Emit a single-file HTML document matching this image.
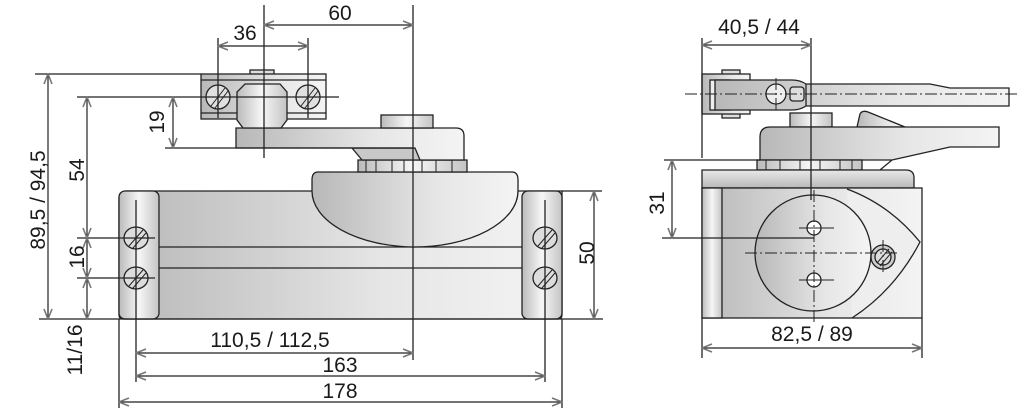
<!DOCTYPE html>
<html><head><meta charset="utf-8"><style>
html,body{margin:0;padding:0;background:#fff;}
svg{display:block;}
text{font-family:"Liberation Sans",Arial,sans-serif;font-size:21px;fill:#1a1a1a;}
</style></head><body>
<svg width="1024" height="412" viewBox="0 0 1024 412" xmlns="http://www.w3.org/2000/svg">
<defs>
<linearGradient id="g" x1="0" x2="1" y1="0" y2="0">
<stop offset="0" stop-color="#b8b8b8"/><stop offset="0.6" stop-color="#e6e6e6"/><stop offset="1" stop-color="#f4f4f4"/></linearGradient>
<linearGradient id="gv" x1="0" x2="0" y1="0" y2="1">
<stop offset="0" stop-color="#e8e8e8"/><stop offset="1" stop-color="#b8b8b8"/></linearGradient>
<linearGradient id="gc" x1="0" x2="1">
<stop offset="0" stop-color="#bbb"/><stop offset="0.5" stop-color="#f6f6f6"/><stop offset="1" stop-color="#c4c4c4"/></linearGradient>
<marker id="a" viewBox="0 0 12 10" refX="11" refY="5" markerWidth="12" markerHeight="10" markerUnits="userSpaceOnUse" orient="auto-start-reverse">
<path d="M1,1 L11,5 L1,9" fill="none" stroke="#777" stroke-width="1.6"/></marker>
</defs>
<g stroke="#222" stroke-width="1.3">
<!-- LEFT VIEW -->
<path d="M127,191 H562 V315 Q562,319 558,319 H123 Q119,319 119,315 V199 Q119,191 127,191Z" fill="url(#g)"/>
<rect x="119" y="191" width="40" height="128" fill="url(#gc)" rx="6"/>
<rect x="522" y="191" width="40" height="128" fill="url(#gc)" rx="6"/>
<line x1="159" y1="247" x2="522" y2="247"/><line x1="159" y1="268" x2="522" y2="268"/>
<path d="M318,172 H512 Q518,172 518,180 V191 A104,56 0 0 1 413,247 A104,56 0 0 1 312,191 V180 Q312,172 318,172Z" fill="url(#g)"/>
<rect x="358" y="160" width="109" height="12" fill="url(#gc)"/>
<g stroke-width="1"><line x1="366" y1="160" x2="366" y2="172"/><line x1="376" y1="160" x2="376" y2="172"/><line x1="392" y1="160" x2="392" y2="172"/><line x1="404" y1="160" x2="404" y2="172"/><line x1="422" y1="160" x2="422" y2="172"/><line x1="436" y1="160" x2="436" y2="172"/><line x1="452" y1="160" x2="452" y2="172"/></g>
<path d="M352,148 L362,160 H452 L420,148Z" fill="#c8c8c8"/>
<path d="M236,128 H456 Q464,128 464,136 V160 H420 L415,148 H236Z" fill="url(#g)"/>
<rect x="381" y="115" width="52" height="13" fill="url(#gc)"/>
<rect x="250" y="70" width="24" height="5" fill="#ddd"/>
<rect x="201" y="74" width="125" height="45" fill="url(#g)"/>
<line x1="201" y1="80" x2="326" y2="80"/><line x1="201" y1="113" x2="326" y2="113"/>
<path d="M245,84 H280 L287,92 V120 L281,128 H243 L237,120 V92Z" fill="url(#gc)"/>
<circle cx="218" cy="97" r="12" fill="#e0e0e0"/><circle cx="308" cy="97" r="12" fill="#e0e0e0"/>
<g stroke-width="1"><line x1="211" y1="106" x2="225" y2="88"/><line x1="215" y1="108" x2="228" y2="91"/><line x1="301" y1="106" x2="315" y2="88"/><line x1="305" y1="108" x2="318" y2="91"/></g>
<g fill="#ddd"><ellipse cx="136" cy="238" rx="12" ry="11"/><ellipse cx="136" cy="278" rx="12" ry="11"/><ellipse cx="545" cy="238" rx="12" ry="11"/><ellipse cx="545" cy="278" rx="12" ry="11"/></g>
<g stroke-width="1"><path d="M129,246 L143,230 M133,248 L146,233 M129,286 L143,270 M133,288 L146,273 M538,246 L552,230 M542,248 L555,233 M538,286 L552,270 M542,288 L555,273"/></g>
<line x1="264" y1="5" x2="264" y2="158"/>
<line x1="413" y1="5" x2="413" y2="360"/>
<line x1="218" y1="38" x2="218" y2="118"/><line x1="308" y1="38" x2="308" y2="118"/>
<line x1="77" y1="97" x2="339" y2="97"/>
<line x1="35" y1="74" x2="201" y2="74"/>
<line x1="165" y1="148" x2="413" y2="148"/>
<line x1="77" y1="238" x2="155" y2="238"/><line x1="77" y1="278" x2="155" y2="278"/>
<line x1="39" y1="319" x2="603" y2="319"/>
<line x1="562" y1="191" x2="602" y2="191"/>
<line x1="136" y1="200" x2="136" y2="382"/><line x1="545" y1="200" x2="545" y2="382"/>
<line x1="119" y1="319" x2="119" y2="408"/><line x1="562" y1="319" x2="562" y2="408"/>
<g stroke-width="1.2" marker-start="url(#a)" marker-end="url(#a)">
<line x1="264" y1="25" x2="413" y2="25"/>
<line x1="218" y1="46" x2="308" y2="46"/>
<line x1="48" y1="74" x2="48" y2="319"/>
<line x1="87" y1="97" x2="87" y2="238"/>
<line x1="173" y1="97" x2="173" y2="148"/>
<line x1="87" y1="238" x2="87" y2="278"/>
<line x1="87" y1="278" x2="87" y2="319"/>
<line x1="594" y1="191" x2="594" y2="319"/>
<line x1="136" y1="353" x2="413" y2="353"/>
<line x1="136" y1="376" x2="545" y2="376"/>
<line x1="119" y1="402" x2="562" y2="402"/>
</g>

<!-- RIGHT VIEW -->
<rect x="722" y="70" width="18" height="48" fill="#ddd"/>
<rect x="702" y="74" width="48" height="40" fill="url(#g)"/>
<rect x="710" y="80" width="20" height="30" fill="#eee"/>
<path d="M715,80 H792 Q800,80 806,84 H930 L950,88 H1009 V106 H806 Q800,110 792,110 H715Z" fill="url(#g)"/>
<line x1="806" y1="84" x2="806" y2="106"/>
<circle cx="776" cy="94" r="10" fill="#eee"/>
<rect x="790" y="87" width="14" height="14" fill="#ddd" rx="3"/>
<path d="M857,127 L860,114 Q862,110 868,112 L905,127Z" fill="url(#g)"/>
<rect x="790" y="113" width="42" height="14" fill="url(#gc)"/>
<path d="M770,127 H999 V147 H950 L892,160 H760 V137 Q760,127 770,127Z" fill="url(#g)"/>
<path d="M880,170 L892,160" />
<rect x="757" y="160" width="105" height="10" fill="url(#gc)"/>
<g stroke-width="1"><line x1="766" y1="160" x2="766" y2="170"/><line x1="780" y1="160" x2="780" y2="170"/><line x1="800" y1="160" x2="800" y2="170"/><line x1="820" y1="160" x2="820" y2="170"/><line x1="840" y1="160" x2="840" y2="170"/><line x1="852" y1="160" x2="852" y2="170"/></g>
<path d="M702,170 H906 Q914,170 914,178 V188 H702Z" fill="url(#gv)"/>
<rect x="702" y="188" width="220" height="130" fill="url(#g)"/>
<rect x="702" y="188" width="20" height="130" fill="url(#gc)"/>
<path d="M847,189 Q890,205 920,242 Q895,290 852,318" fill="#eee"/>
<circle cx="813" cy="253" r="58" fill="url(#g)"/>
<circle cx="814" cy="228" r="7" fill="#fff"/><circle cx="814" cy="280" r="7" fill="#fff"/>
<circle cx="883" cy="257" r="12" fill="#ccc"/><circle cx="883" cy="257" r="8" fill="#ddd"/>
<path d="M877,263 L889,249 M880,266 L892,252" stroke-width="1"/>
<g stroke-width="1" stroke-dasharray="12,3,2,3"><line x1="685" y1="94" x2="1017" y2="94"/><line x1="745" y1="253" x2="900" y2="253"/><line x1="814" y1="190" x2="814" y2="325"/><line x1="883" y1="240" x2="883" y2="275"/><line x1="776" y1="78" x2="776" y2="112"/></g>
<g stroke-width="1"><line x1="799" y1="228" x2="834" y2="228"/><line x1="799" y1="280" x2="834" y2="280"/></g>
<line x1="702" y1="38" x2="702" y2="158"/><line x1="811" y1="38" x2="811" y2="200"/>
<line x1="664" y1="160" x2="760" y2="160"/><line x1="662" y1="238" x2="814" y2="238"/>
<line x1="702" y1="318" x2="702" y2="358"/><line x1="922" y1="318" x2="922" y2="358"/>
<g stroke-width="1.2" marker-start="url(#a)" marker-end="url(#a)">
<line x1="702" y1="45" x2="811" y2="45"/>
<line x1="672" y1="160" x2="672" y2="238"/>
<line x1="702" y1="348" x2="922" y2="348"/>
</g>
</g>
<g text-anchor="middle">
<text x="340" y="20">60</text>
<text x="245" y="40">36</text>
<text x="270" y="347">110,5 / 112,5</text>
<text x="340" y="372">163</text>
<text x="340" y="398">178</text>
<text x="759" y="34">40,5 / 44</text>
<text x="812" y="341">82,5 / 89</text>
<text transform="translate(45,200) rotate(-90)">89,5 / 94,5</text>
<text transform="translate(84,170) rotate(-90)">54</text>
<text transform="translate(164,122) rotate(-90)">19</text>
<text transform="translate(84,257) rotate(-90)">16</text>
<text transform="translate(82,350) rotate(-90)">11/16</text>
<text transform="translate(594,253) rotate(-90)">50</text>
<text transform="translate(664,203) rotate(-90)">31</text>
</g>
</svg>
</body></html>
